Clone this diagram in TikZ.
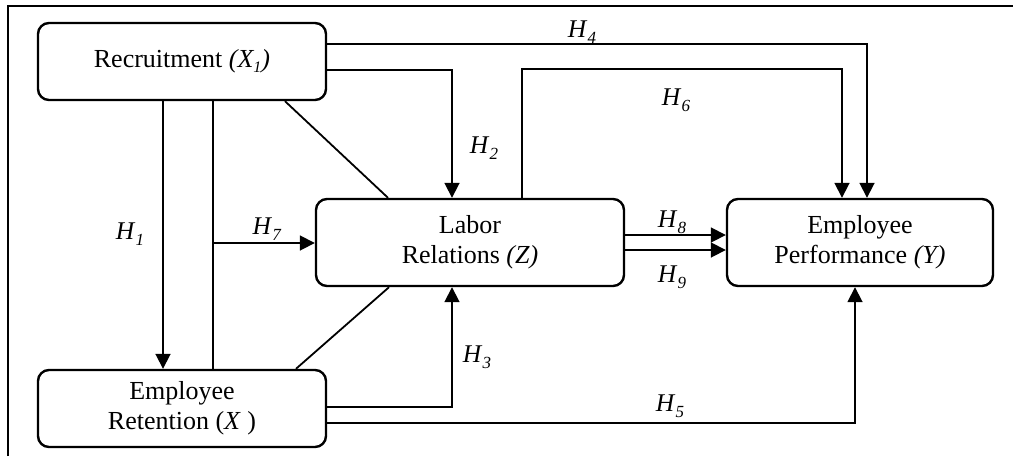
\documentclass[tikz,border=0pt]{standalone}
\usepackage{fontspec}
\setmainfont{Liberation Serif}
\usetikzlibrary{arrows.meta,calc}
\newcommand{\Hlab}[1]{\textit{H}\kern0.3pt{\fontsize{17}{17}\selectfont\raisebox{-5.5pt}{\textit{#1}}}}
\newcommand{\subsc}[1]{{\fontsize{16}{16}\selectfont\raisebox{-5pt}{#1}}}
\tikzset{
  boxnode/.style={draw, line width=2.4pt, rounded corners=11pt, inner sep=0pt, align=center,
    font=\fontsize{26}{30}\selectfont},
  conn/.style={line width=1.8pt},
  arr/.style={line width=1.8pt, -{Triangle[length=15pt,width=15pt]}},
  hlab/.style={font=\fontsize{25.5}{28}\selectfont, inner sep=0pt},
  frame/.style={line width=2pt}
}
\begin{document}
\begin{tikzpicture}[x=1pt,y=-1pt]
\useasboundingbox (0,0) rectangle (1013,456);
\coordinate (fa) at (8,456);
\coordinate (fb) at (8,6);
\coordinate (fc) at (1013,6);
\draw[frame] (fa) -- (fb) -- (fc);

\node[boxnode, minimum width=288pt, minimum height=77pt] (rec) at (182,61.5) {Recruitment \textit{(X\subsc{1})}};
\node[boxnode, minimum width=288pt, minimum height=77pt] (ret) at (182,408.5) {Employee\\Retention (\textit{X} )};
\node[boxnode, minimum width=308pt, minimum height=87pt] (lab) at (470,242.5) {Labor\\Relations \textit{(Z)}};
\node[boxnode, minimum width=266pt, minimum height=87pt] (perf) at (860,242.5) {Employee\\Performance \textit{(Y)}};

% x positions
\coordinate (x1) at (163,0);
\coordinate (x7) at (213,0);
\coordinate (j7) at (213,243);
\coordinate (d1a) at (285,0);
\coordinate (d1b) at (388,0);
\coordinate (d2a) at (296,0);
\coordinate (d2b) at (389,0);
\coordinate (x23) at (452,0);
\coordinate (x6) at (522,0);
\coordinate (x6b) at (842,0);
\coordinate (x4) at (867,0);
\coordinate (x5) at (855,0);
\coordinate (y4) at (0,44);
\coordinate (y2) at (0,70);
\coordinate (y6) at (0,69);
\coordinate (y8) at (0,235);
\coordinate (y9) at (0,250);
\coordinate (y3) at (0,407);
\coordinate (y5) at (0,423);

% H1
\draw[arr] (rec.south -| x1) -- (ret.north -| x1);
% H7
\draw[conn] (rec.south -| x7) -- (ret.north -| x7);
\draw[arr] (j7) -- (lab.west |- j7);
% diagonals
\draw[conn] (rec.south -| d1a) -- (lab.north -| d1b);
\draw[conn] (ret.north -| d2a) -- (lab.south -| d2b);
% H2
\draw[arr] (rec.east |- y2) -| (lab.north -| x23);
% H4
\draw[arr] (rec.east |- y4) -| (perf.north -| x4);
% H6
\draw[arr] (lab.north -| x6) |- (x6b |- y6) -- (perf.north -| x6b);
% H8, H9
\draw[arr] (lab.east |- y8) -- (perf.west |- y8);
\draw[arr] (lab.east |- y9) -- (perf.west |- y9);
% H3
\draw[arr] (ret.east |- y3) -| (lab.south -| x23);
% H5
\draw[arr] (ret.east |- y5) -| (perf.south -| x5);

% labels
\node[hlab] (h1) at (130,234) {\Hlab{1}};
\node[hlab] (h2) at (484,148) {\Hlab{2}};
\node[hlab] (h3) at (477,357) {\Hlab{3}};
\node[hlab] (h4) at (582,32) {\Hlab{4}};
\node[hlab] (h5) at (670,406) {\Hlab{5}};
\node[hlab] (h6) at (676,100) {\Hlab{6}};
\node[hlab] (h7) at (267,229) {\Hlab{7}};
\node[hlab] (h8) at (672,222) {\Hlab{8}};
\node[hlab] (h9) at (672,277) {\Hlab{9}};
\end{tikzpicture}
\end{document}
